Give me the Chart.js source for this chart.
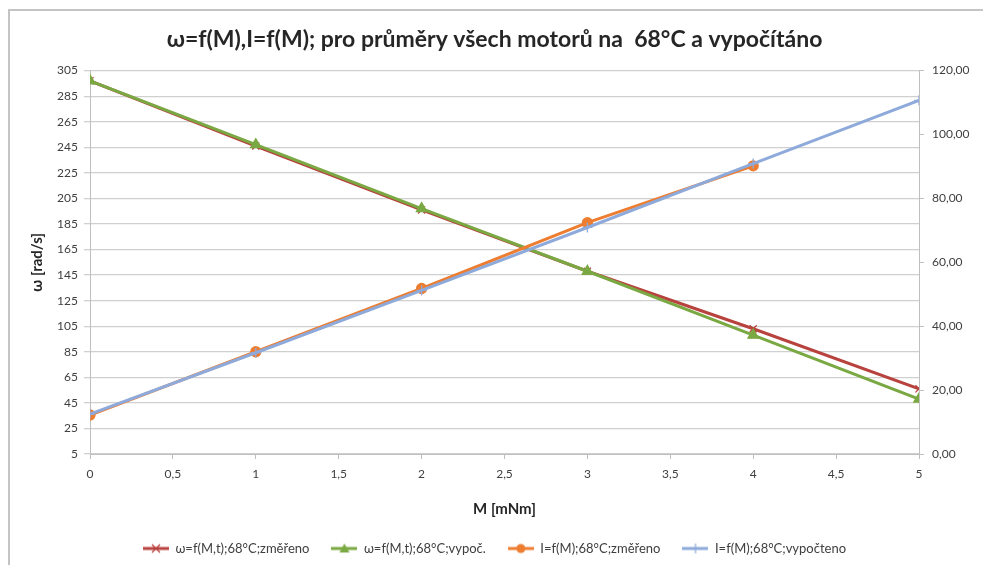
<!DOCTYPE html>
<html>
<head>
<meta charset="utf-8">
<script src="https://cdn.jsdelivr.net/npm/chart.js@4.4.1/dist/chart.umd.min.js"></script>
<style>
  html, body { margin: 0; padding: 0; background: #fff; }
  #wrap { position: relative; width: 983px; height: 565px; overflow: hidden; }
  #chart { position: absolute; left: 0; top: 0; }
  #frame {
    position: absolute; left: 8px; top: 9px; width: 990px; height: 580px;
    border: 2px solid #c4c4c4; pointer-events: none;
  }
</style>
</head>
<body>
<div id="wrap">
  <canvas id="chart" width="983" height="565"></canvas>
  <div id="frame"></div>
</div>
<script>
// ---- data ----
const mValues = [0, 1, 2, 3, 4, 5];                       // M [mNm]
const omegaMeasured = [297, 246, 196, 148, 103, 56];      // ω, 68°C, změřeno
const omegaComputed = [297, 247, 197, 148, 98, 48];       // ω, 68°C, vypočteno
const currentMeasured = [12.2, 32.0, 51.8, 72.4, 90.2];   // I, 68°C, změřeno (M = 0..4)
const currentComputed = [12.5, 31.7, 51.2, 70.9, 90.9, 110.7]; // I, 68°C, vypočteno

const labels = [
  'ω=f(M,t);68°C;změřeno',
  'ω=f(M,t);68°C;vypoč.',
  'I=f(M);68°C;změřeno',
  'I=f(M);68°C;vypočteno'
];

const RED = '#b8433e', GREEN = '#7aa842', ORANGE = '#ed7d31', BLUE = '#8eaadb';
const FONT = 'Lato, "Open Sans", sans-serif';

const toPoints = (ys) => ys.map((y, i) => ({ x: mValues[i], y }));
const comma = (v, d) => (d == null ? String(v) : Number(v).toFixed(d)).replace('.', ',');

// small line+marker swatch used as legend icon
function swatch(color, style) {
  const c = document.createElement('canvas');
  c.width = 26; c.height = 12;
  const g = c.getContext('2d');
  g.strokeStyle = color; g.fillStyle = color; g.lineWidth = 3;
  g.beginPath(); g.moveTo(0, 6); g.lineTo(26, 6); g.stroke();
  g.lineWidth = 1.2;
  if (style === 'crossRot') {
    g.beginPath(); g.moveTo(9, 2); g.lineTo(17, 10); g.moveTo(17, 2); g.lineTo(9, 10); g.stroke();
  } else if (style === 'triangle') {
    g.beginPath(); g.moveTo(13, 1); g.lineTo(18, 10); g.lineTo(8, 10); g.closePath(); g.fill();
  } else if (style === 'circle') {
    g.beginPath(); g.arc(13, 6, 4.5, 0, Math.PI * 2); g.fill();
  } else {
    g.beginPath(); g.moveTo(13, 1); g.lineTo(13, 11); g.moveTo(8, 6); g.lineTo(18, 6); g.stroke();
  }
  return c;
}

function series(label, data, color, style, radius, axis) {
  return {
    label, data, yAxisID: axis,
    borderColor: color, backgroundColor: color,
    borderWidth: 3, tension: 0,
    pointStyle: style, pointRadius: radius, pointHoverRadius: radius,
    pointBorderColor: color, pointBackgroundColor: color, pointBorderWidth: 1.3,
    legendIcon: swatch(color, style)
  };
}

// Excel draws later series on top; Chart.js draws dataset 0 on top -> reversed order
const datasets = [
  series(labels[3], toPoints(currentComputed), BLUE, 'cross', 5, 'y1'),
  series(labels[2], toPoints(currentMeasured), ORANGE, 'circle', 5, 'y1'),
  series(labels[1], toPoints(omegaComputed), GREEN, 'triangle', 6, 'y'),
  series(labels[0], toPoints(omegaMeasured), RED, 'crossRot', 5, 'y')
];

new Chart(document.getElementById('chart'), {
  type: 'line',
  data: { datasets },
  options: {
    responsive: false,
    animation: false,
    layout: { padding: { left: 10, right: 4, top: 0, bottom: 0 } },
    plugins: {
      title: {
        display: true,
        text: 'ω=f(M),I=f(M); pro průměry všech motorů na  68°C a vypočítáno',
        color: '#262626',
        font: { family: FONT, size: 23, weight: 'bold' },
        padding: { top: 26, bottom: 17 }
      },
      legend: {
        position: 'bottom',
        reverse: true,
        labels: {
          color: '#404040',
          font: { family: FONT, size: 13 },
          usePointStyle: true,
          pointStyleWidth: 26,
          padding: 22,
          generateLabels(chart) {
            return chart.data.datasets.map((ds, i) => ({
              text: ds.label,
              pointStyle: ds.legendIcon,
              fillStyle: ds.borderColor,
              strokeStyle: ds.borderColor,
              lineWidth: 0,
              fontColor: '#404040',
              hidden: false,
              datasetIndex: i
            }));
          }
        }
      },
      tooltip: { enabled: false }
    },
    scales: {
      x: {
        type: 'linear',
        min: 0, max: 5,
        afterFit: (s) => { s.height = 66; },
        ticks: {
          stepSize: 0.5,
          color: '#404040',
          font: { family: FONT, size: 12 },
          padding: 8,
          callback: (v) => comma(v)
        },
        grid: { drawOnChartArea: false, tickLength: 5, color: '#bfbfbf', lineWidth: 1 },
        border: { color: '#bfbfbf', width: 1 },
        title: {
          display: true, text: 'M [mNm]', color: '#262626',
          font: { family: FONT, size: 15, weight: 'bold' },
          padding: { top: 2, bottom: 2 }
        }
      },
      y: {
        position: 'left',
        min: 5, max: 305,
        afterFit: (s) => { s.width = 80; },
        ticks: {
          stepSize: 20,
          color: '#404040',
          font: { family: FONT, size: 12 },
          padding: 6
        },
        grid: { color: '#d0d0d0', lineWidth: 1.3, tickLength: 6 },
        border: { color: '#bfbfbf', width: 1 },
        title: {
          display: true, text: 'ω [rad/s]', color: '#262626',
          font: { family: FONT, size: 15, weight: 'bold' },
          padding: { top: 18, bottom: 18 }
        }
      },
      y1: {
        position: 'right',
        min: 0, max: 120,
        afterFit: (s) => { s.width = 60; },
        ticks: {
          stepSize: 20,
          color: '#404040',
          font: { family: FONT, size: 12 },
          padding: 8,
          callback: (v) => comma(v, 2)
        },
        grid: { drawOnChartArea: false, tickLength: 5, color: '#bfbfbf' },
        border: { color: '#bfbfbf', width: 1 }
      }
    }
  }
});
</script>
</body>
</html>
